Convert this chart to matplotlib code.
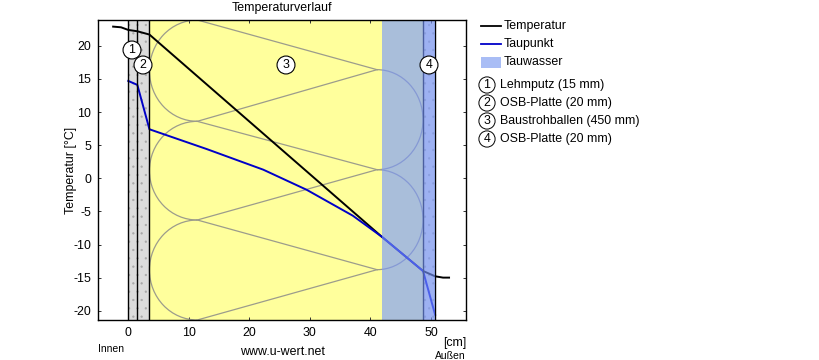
import matplotlib
matplotlib.use('Agg')
import matplotlib.pyplot as plt
from matplotlib.patches import Arc, Rectangle

plt.rcParams['font.family'] = ['Liberation Sans', 'DejaVu Sans']
plt.rcParams['hatch.linewidth'] = 0.4
plt.rcParams['axes.unicode_minus'] = False

W, H = 820, 360
FS = 8.9

temp_x = [-2.5, -1.2, 0, 1.5, 3.5, 41.85, 48.7, 50.7, 52.0, 53.0]
temp_y = [22.9, 22.8, 22.4, 22.2, 21.7, -8.8, -14.0, -14.8, -15.0, -15.0]
dew_x = [0, 1.5, 3.5, 13.0, 22.3, 29.5, 37.1, 41.85, 48.7, 50.7]
dew_y = [14.7, 14.1, 7.4, 4.4, 1.3, -1.75, -5.65, -8.8, -14.0, -20.6]

layer_edges = [0, 1.5, 3.5, 48.7, 50.7]
layer_colors = ['#dcdcdc', '#dcdcdc', '#ffff9c', '#dcdcdc']
layer_names = ['Lehmputz (15 mm)', 'OSB-Platte (20 mm)',
               'Baustrohballen (450 mm)', 'OSB-Platte (20 mm)']
condensate_zone = [41.85, 50.7]

bale_left_y = [23.9, 8.6, -6.3, -21.4]
bale_right_y = [16.4, 1.3, -13.8]
bale_left_x = 11.4
bale_right_x = 41.1

xticks = [0, 10, 20, 30, 40, 50]
yticks = [-20, -15, -10, -5, 0, 5, 10, 15, 20]

fig = plt.figure(figsize=(W / 100, H / 100), dpi=100)
ax = fig.add_axes([98 / W, 1 - 320 / H, 368 / W, 300 / H])
ax.set_xlim(-5, 55.8)
ax.set_ylim(-21.4, 23.9)

# layers
for i, c in enumerate(layer_colors):
    hatched = c == '#dcdcdc'
    ax.axvspan(layer_edges[i], layer_edges[i + 1], facecolor=c,
               edgecolor='#a8a8a8' if hatched else 'none',
               hatch='..' if hatched else None, linewidth=0, zorder=1)

# straw bale pattern
bale_color = '#9c9c8c'
x_left = layer_edges[2]
x_right = layer_edges[3]
for top, bot in zip(bale_left_y[:-1], bale_left_y[1:]):
    ax.add_patch(Arc((bale_left_x, (top + bot) / 2), 2 * (bale_left_x - x_left), top - bot,
                     theta1=90, theta2=270, color=bale_color, lw=0.9, zorder=2))
for top, bot in zip(bale_right_y[:-1], bale_right_y[1:]):
    ax.add_patch(Arc((bale_right_x, (top + bot) / 2), 2 * (x_right - bale_right_x), top - bot,
                     theta1=-90, theta2=90, color=bale_color, lw=0.9, zorder=2))
for k, yr in enumerate(bale_right_y):
    for yl in (bale_left_y[k], bale_left_y[k + 1]):
        ax.plot([bale_left_x, bale_right_x], [yl, yr], color=bale_color, lw=0.9, zorder=2)

# curves
ax.plot(temp_x, temp_y, color='black', lw=1.4, zorder=3)
ax.plot(dew_x, dew_y, color='#0000c8', lw=1.4, zorder=3)

# layer boundaries
for e in layer_edges:
    ax.axvline(e, color='black', lw=1.0, zorder=4)

# condensate zone
ax.axvspan(condensate_zone[0], condensate_zone[1], facecolor='#7898ff', alpha=0.63,
           linewidth=0, zorder=5)

ax.set_xticks(xticks)
ax.set_yticks(yticks)
ax.tick_params(direction='in', top=True, right=True, length=2.5, width=0.7,
               labelsize=FS, pad=5, color='#333333', labelcolor='black')
for s in ax.spines.values():
    s.set_linewidth(1.0)
    s.set_zorder(8)

circ = dict(boxstyle='circle,pad=0.24', fc='white', ec='black', lw=0.8)


def px(x, y, s, **kw):
    return fig.text(x / W, 1 - y / H, s, **kw)


kw = dict(ha='center', va='center', fontsize=FS, color='black', zorder=10)
for (x, y), n in zip([(132, 50), (143, 65), (286, 65), (429, 65)], '1234'):
    px(x, y, n, bbox=circ, **kw)

px(282, 8, 'Temperaturverlauf', ha='center', va='center', fontsize=FS)
px(282, 352, 'www.u-wert.net', ha='center', va='center', fontsize=FS)
px(98, 349, 'Innen', ha='left', va='center', fontsize=7.5)
px(466, 343, '[cm]', ha='right', va='center', fontsize=FS)
px(466, 356, 'Außen', ha='right', va='center', fontsize=7.5)
px(71.5, 170, 'Temperatur [°C]', ha='center', va='center', rotation=90, fontsize=FS)

# legend
leg = [('Temperatur', 'black', 26), ('Taupunkt', '#0000c8', 44)]
for name, c, y in leg:
    fig.add_artist(plt.Line2D([481 / W, 501 / W], [1 - y / H] * 2, color=c, lw=1.3))
    px(504, y, name, ha='left', va='center', fontsize=FS)
fig.add_artist(Rectangle((481 / W, 1 - 67.5 / H), 20 / W, 11 / H, transform=fig.transFigure,
                         fc='#a9bdf5', ec='none'))
px(504, 62, 'Tauwasser', ha='left', va='center', fontsize=FS)

circ2 = dict(boxstyle='circle,pad=0.17', fc='white', ec='black', lw=0.7)
for i, name in enumerate(layer_names):
    y = 85 + 18 * i
    px(487, y, str(i + 1), ha='center', va='center', fontsize=FS, bbox=circ2)
    px(500, y, name, ha='left', va='center', fontsize=FS)

fig.savefig('out.png', dpi=100)
